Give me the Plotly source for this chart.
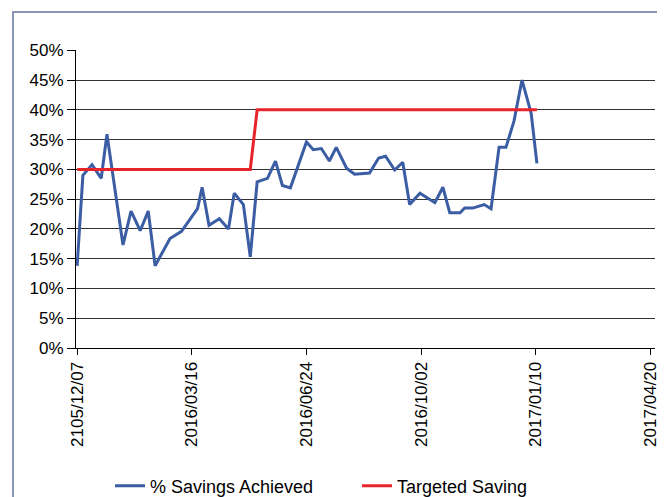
import plotly.graph_objects as go

# ---- data ----
dates = [
    "2015-12-07", "2015-12-12", "2015-12-20", "2015-12-28", "2016-01-02",
    "2016-01-16", "2016-01-23", "2016-01-31", "2016-02-07", "2016-02-13",
    "2016-02-26", "2016-03-07", "2016-03-21", "2016-03-25", "2016-03-31",
    "2016-04-09", "2016-04-17", "2016-04-22", "2016-04-30", "2016-05-06",
    "2016-05-12", "2016-05-21", "2016-05-28", "2016-06-03", "2016-06-10",
    "2016-06-24", "2016-06-30", "2016-07-07", "2016-07-14", "2016-07-20",
    "2016-07-29", "2016-08-05", "2016-08-18", "2016-08-26", "2016-09-01",
    "2016-09-09", "2016-09-16", "2016-09-22", "2016-10-01", "2016-10-08",
    "2016-10-14", "2016-10-21", "2016-10-27", "2016-11-05", "2016-11-09",
    "2016-11-16", "2016-11-26", "2016-12-02", "2016-12-09", "2016-12-15",
    "2016-12-22", "2016-12-29", "2017-01-06", "2017-01-11",
]
savings_achieved = [
    13.8, 29.0, 30.8, 28.5, 35.9,
    17.3, 23.0, 19.7, 23.0, 13.8,
    18.4, 19.6, 23.4, 27.0, 20.6,
    21.7, 20.0, 26.0, 24.1, 15.3,
    27.9, 28.5, 31.4, 27.3, 26.9,
    34.6, 33.3, 33.5, 31.4, 33.7,
    30.2, 29.2, 29.4, 31.9, 32.2,
    29.9, 31.2, 24.1, 26.0, 25.2,
    24.4, 27.0, 22.7, 22.7, 23.5,
    23.5, 24.1, 23.4, 33.7, 33.7,
    38.1, 45.0, 39.4, 31.0,
]
targeted_saving = [
    30, 30, 30, 30, 30,
    30, 30, 30, 30, 30,
    30, 30, 30, 30, 30,
    30, 30, 30, 30, 30,
    40, 40, 40, 40, 40,
    40, 40, 40, 40, 40,
    40, 40, 40, 40, 40,
    40, 40, 40, 40, 40,
    40, 40, 40, 40, 40,
    40, 40, 40, 40, 40,
    40, 40, 40, 40,
]
tick_dates = ["2015-12-07", "2016-03-16", "2016-06-24", "2016-10-02", "2017-01-10", "2017-04-20"]
tick_labels = ["2105/12/07", "2016/03/16", "2016/06/24", "2016/10/02", "2017/01/10", "2017/04/20"]
y_ticks = [0, 5, 10, 15, 20, 25, 30, 35, 40, 45, 50]
y_labels = ["0%", "5%", "10%", "15%", "20%", "25%", "30%", "35%", "40%", "45%", "50%"]

FONT = "Liberation Sans, Arial, sans-serif"

fig = go.Figure()
fig.add_trace(go.Scatter(
    x=dates, y=savings_achieved, mode="lines", name="% Savings Achieved",
    line=dict(color="#3A5DA3", width=3),
))
fig.add_trace(go.Scatter(
    x=dates, y=targeted_saving, mode="lines", name="Targeted Saving",
    line=dict(color="#E8242B", width=3),
))

# page body has an 8px margin: size the figure so it fits the window exactly
OFF = 8
W, H = 665 - OFF, 497 - OFF
L = 76 - OFF          # plot left edge at window x=76
T = 50 - OFF          # plot top at window y=50
R = W - (655 - OFF)   # plot right at window x=655
B = H - (348 - OFF)   # plot bottom at window y=348
pw, ph = W - L - R, H - T - B

def px_x(p):
    return (p - OFF - L) / pw

def px_y(p):
    return (H - B - (p - OFF)) / ph

fig.update_layout(
    width=W, height=H,
    margin=dict(l=L, r=R, t=T, b=B, autoexpand=False),
    paper_bgcolor="white", plot_bgcolor="white",
    font=dict(family=FONT, color="black", size=17),
    showlegend=True,
    legend=dict(
        orientation="h", x=px_x(110), xanchor="left",
        y=px_y(486), yanchor="middle",
        font=dict(size=18), entrywidth=202, entrywidthmode="pixels",
        bgcolor="rgba(0,0,0,0)",
    ),
    xaxis=dict(
        type="date", automargin=False,
        range=["2015-12-06 00:00", "2017-04-24 00:00"],
        tickvals=tick_dates, ticktext=tick_labels, tickangle=-90,
        ticks="outside", ticklen=6, tickcolor="black", tickwidth=1,
        showline=True, linecolor="black", linewidth=1,
        showgrid=False, zeroline=False,
        tickfont=dict(size=17),
    ),
    yaxis=dict(
        automargin=False,
        range=[0, 50.05],
        tickvals=y_ticks, ticktext=y_labels,
        ticks="outside", ticklen=8, tickcolor="black", tickwidth=1,
        showline=True, linecolor="black", linewidth=1,
        showgrid=True, gridcolor="#333333", gridwidth=1,
        zeroline=False,
        tickfont=dict(size=17),
    ),
    shapes=[dict(
        type="rect", xref="paper", yref="paper",
        x0=px_x(13), x1=px_x(720), y0=px_y(540), y1=px_y(12),
        line=dict(color="#8A97B6", width=2), fillcolor="rgba(0,0,0,0)",
        layer="below",
    )],
)

fig.write_html("out.html")
